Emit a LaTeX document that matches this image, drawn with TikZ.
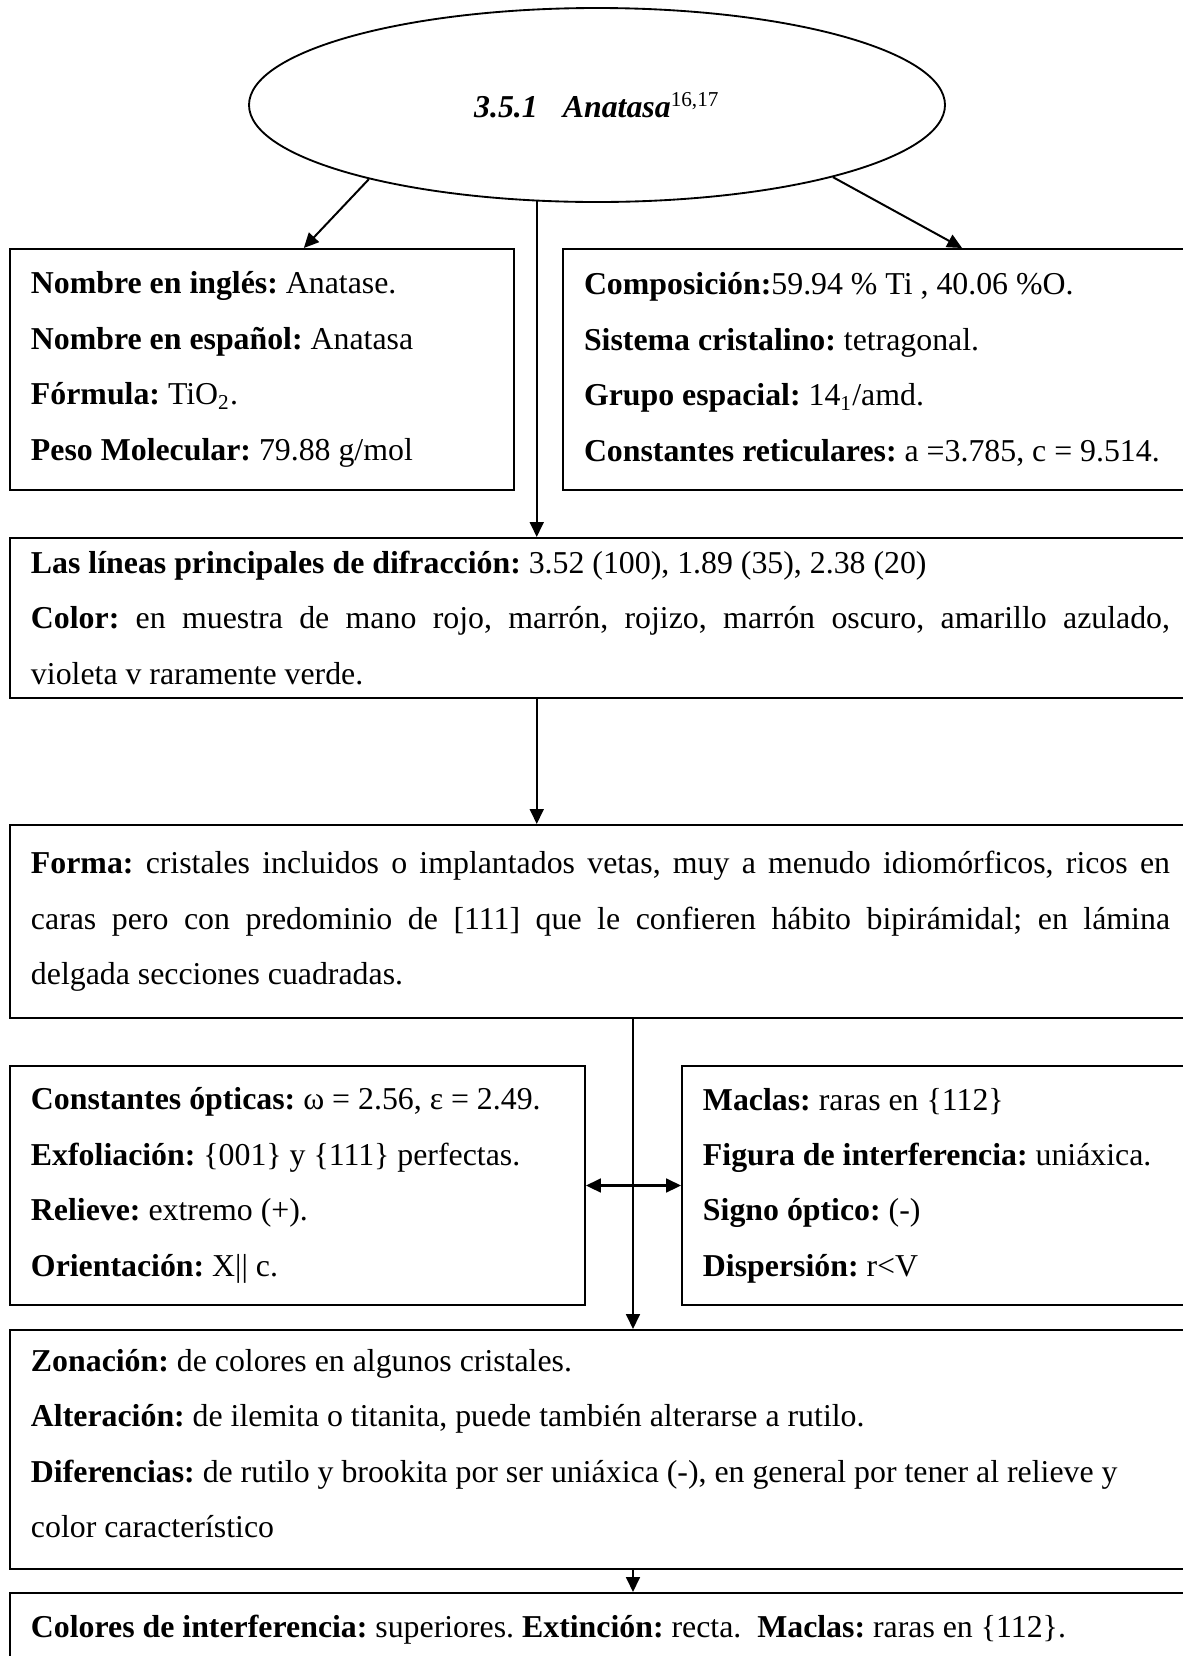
\documentclass[tikz,border=0pt]{standalone}
\usepackage{fontspec}
\setmainfont{Liberation Serif}
\usepackage{tikz}
\usetikzlibrary{arrows.meta,positioning,shapes.geometric}
\newlength\pxu
\setlength\pxu{0.377pt}
\setlength\parindent{0pt}
\frenchspacing

\begin{document}
\begin{tikzpicture}[
  x=\pxu, y=-\pxu,
  panel/.style={rectangle, draw, line width=0.75pt, anchor=north west, align=justify,
    inner xsep=21\pxu, inner ysep=0pt, font=\fontsize{12}{20.9}\selectfont},
  arrow/.style={-{Triangle[length=5.6pt,width=5.2pt]}, line width=0.75pt},
  both/.style={{Triangle[length=5.6pt,width=5.2pt]}-{Triangle[length=5.6pt,width=5.2pt]}, line width=0.9pt}
]
\useasboundingbox (0,0) rectangle (1182,1656);

% Title
\node[ellipse, draw, line width=0.7pt, minimum width=696\pxu, minimum height=194\pxu,
  inner sep=0pt, font=\fontsize{12}{14}\selectfont] (title) at (597,105)
  {\textbf{\textit{3.5.1\hspace{25\pxu}Anatasa}}\textsuperscript{16,17}};

% Upper boxes
\node[panel, text width=462\pxu, minimum height=241\pxu] (box1) at (9,248)
  {\textbf{Nombre en inglés:} Anatase.\\
   \textbf{Nombre en español:} Anatasa\\
   \textbf{Fórmula:} TiO\textsubscript{2}.\\
   \textbf{Peso Molecular:} 79.88 g/mol};
\node[panel, text width=586\pxu, minimum height=241\pxu] (box2) at (562,248)
  {\textbf{Composición:}59.94 \% Ti , 40.06 \%O.\\
   \textbf{Sistema cristalino:} tetragonal.\\
   \textbf{Grupo espacial:} 14\textsubscript{1}/amd.\\
   \textbf{Constantes reticulares:} a =3.785, c = 9.514.};

% Wide boxes
\node[panel, text width=1139\pxu, minimum height=160\pxu] (box3) at (9,537)
  {\rightskip=9\pxu
   \textbf{Las líneas principales de difracción:} 3.52 (100), 1.89 (35), 2.38 (20)\\
   \textbf{Color:} en muestra de mano rojo, marrón, rojizo, marrón oscuro, amarillo azulado,\linebreak
   violeta v raramente verde.};
\node[panel, text width=1139\pxu, minimum height=193\pxu] (box4) at (9,824)
  {\rightskip=9\pxu
   \textbf{Forma:} cristales incluidos o implantados vetas, muy a menudo idiomórficos, ricos en\linebreak
   caras pero con predominio de [111] que le confieren hábito bipirámidal; en lámina\linebreak
   delgada secciones cuadradas.};

% Optical boxes
\node[panel, text width=533\pxu, minimum height=239\pxu] (box5) at (9,1065)
  {\textbf{Constantes ópticas:} ω = 2.56, ε = 2.49.\\
   \textbf{Exfoliación:} \{001\} y \{111\} perfectas.\\
   \textbf{Relieve:} extremo (+).\\
   \textbf{Orientación:} X|| c.};
\node[panel, text width=467\pxu, minimum height=239\pxu] (box6) at (681,1065)
  {\textbf{Maclas:} raras en \{112\}\\
   \textbf{Figura de interferencia:} uniáxica.\\
   \textbf{Signo óptico:} (-)\\
   \textbf{Dispersión:} r<V};

\node[panel, text width=1139\pxu, minimum height=239\pxu] (box7) at (9,1329)
  {\textbf{Zonación:} de colores en algunos cristales.\\
   \textbf{Alteración:} de ilemita o titanita, puede también alterarse a rutilo.\\
   \textbf{Diferencias:} de rutilo y brookita por ser uniáxica (-), en general por tener al relieve y\\
   color característico\vspace{12\pxu}};
\node[panel, text width=1139\pxu, minimum height=74\pxu] (box8) at (9,1592)
  {\textbf{Colores de interferencia:} superiores. \textbf{Extinción:} recta.\ \ \textbf{Maclas:} raras en \{112\}.};

\coordinate (colB) at (633,0);

% Arrows
\draw[arrow] (title.198) -- (box1.71);
\draw[arrow] (title.343) -- (box2.55);
\draw[arrow] (title.238) -- (title.238 |- box3.north);
\draw[arrow] (box3.south -| title.238) -- (box4.north -| title.238);
\draw[arrow] (box4.south -| colB) -- (box7.north -| colB);
\draw[both] (box5.east) -- (box6.west);
\draw[arrow] (box7.south -| colB) -- (box8.north -| colB);

\end{tikzpicture}
\end{document}
